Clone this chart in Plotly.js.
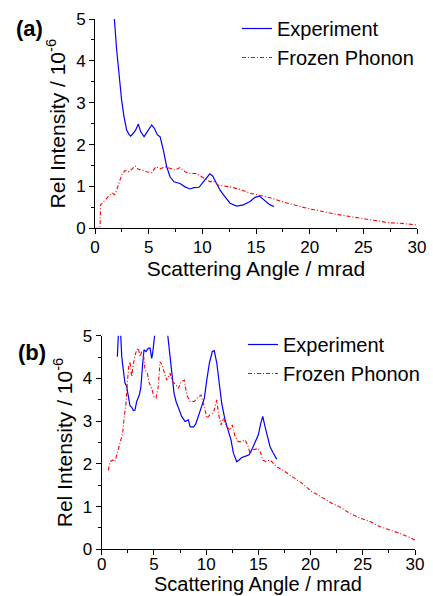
<!DOCTYPE html>
<html>
<head>
<meta charset="utf-8">
<script src="https://cdn.plot.ly/plotly-3.0.1.min.js"></script>
<style>html,body{margin:0;padding:0;background:#fff;overflow:hidden;}#chart{width:433px;height:596px;}</style>
</head>
<body>
<div id="chart"></div>
<script>
// Panel (a)
var expA_x = [1.76,1.80,2.02,2.24,2.48,2.70,2.95,3.15,3.32,3.57,3.79,4.04,4.25,4.57,4.88,5.10,5.28,5.53,5.81,6.06,6.37,6.68,6.99,7.36,7.92,8.39,8.85,9.22,9.69,10.09,10.40,10.70,10.96,11.18,11.65,12.12,12.58,13.2,13.82,14.45,14.91,15.32,15.84,16.31,16.68];
var expA_y = [5.3,5.01,4.26,3.62,3.06,2.67,2.35,2.25,2.20,2.27,2.35,2.49,2.31,2.19,2.31,2.42,2.47,2.39,2.23,2.19,1.87,1.47,1.23,1.11,1.07,0.99,0.94,0.97,0.98,1.11,1.22,1.30,1.25,1.15,0.91,0.75,0.60,0.53,0.56,0.64,0.74,0.77,0.65,0.56,0.52];
var fpA_x = [0,0.47,0.52,0.93,1.40,1.65,1.80,2.02,2.27,2.48,2.80,3.11,3.42,3.73,4.04,4.44,4.81,5.28,5.68,6.06,6.52,6.99,7.45,7.92,8.39,8.85,9.47,9.94,10.40,10.72,11.02,11.49,12.58,13.51,14.45,15.38,16.31,17.24,18.17,19.11,20.04,20.97,21.90,22.83,23.77,24.70,25.63,26.56,27.49,28.42,29.98];
var fpA_y = [0,0,0.56,0.68,0.80,0.84,0.80,0.91,1.09,1.27,1.38,1.35,1.41,1.49,1.41,1.39,1.35,1.33,1.47,1.42,1.47,1.43,1.39,1.45,1.35,1.31,1.31,1.23,1.15,1.11,1.13,1.03,0.99,0.93,0.84,0.78,0.73,0.65,0.58,0.52,0.46,0.41,0.37,0.32,0.28,0.24,0.20,0.16,0.13,0.12,0.08];

// Panel (b)
var expB_x = [1.50,1.59,1.65,1.82,1.92,2.07,2.23,2.39,2.55,2.71,2.87,3.03,3.19,3.35,3.60,3.74,3.93,4.05,4.24,4.47,4.63,4.79,4.88,5.01,5.11,5.25,5.7,6.2,6.32,6.48,6.61,6.76,6.93,7.12,7.34,7.66,7.98,8.30,8.46,8.77,9.00,9.26,9.51,9.83,10.06,10.31,10.59,10.78,11.02,11.24,11.49,11.81,12.13,12.38,12.61,12.93,13.15,13.41,13.79,14.11,14.37,14.68,15.0,15.23,15.42,15.64,15.86,16.12,16.44,16.76];
var expB_y = [4.51,5.02,5.3,5.02,4.51,4.20,3.89,3.81,3.57,3.36,3.33,3.25,3.26,3.46,3.61,3.77,4.36,4.67,4.63,4.71,4.71,4.47,4.59,4.90,5.02,5.4,5.9,5.4,5.02,4.67,4.36,3.96,3.65,3.46,3.30,3.11,2.99,3.03,2.87,2.86,2.93,3.14,3.34,3.54,3.96,4.36,4.63,4.65,4.36,3.89,3.42,3.03,2.79,2.56,2.25,2.05,2.09,2.15,2.18,2.21,2.33,2.52,2.68,2.95,3.11,2.87,2.64,2.40,2.25,2.11];
var fpB_x = [0.63,0.80,1.05,1.27,1.44,1.59,1.75,2.01,2.14,2.33,2.45,2.59,2.71,2.87,3.03,3.16,3.35,3.51,3.67,3.83,3.99,4.15,4.37,4.56,4.79,5.01,5.20,5.42,5.58,5.78,5.97,6.23,6.54,6.80,7.12,7.34,7.60,7.91,8.14,8.46,8.87,9.26,9.51,9.83,10.06,10.37,10.59,10.78,11.02,11.17,11.43,11.65,11.97,12.29,12.51,12.77,13.08,13.41,13.73,13.98,14.20,14.52,15.0,15.23,15.42,15.74,16.12,16.44,16.76,17.24,17.72,18.20,18.68,19.16,19.64,20.11,20.59,21.07,21.55,22.03,22.66,23.78,24.74,25.70,26.66,27.61,28.57,30.0];
var fpB_y = [1.85,2.05,2.09,2.05,2.21,2.33,2.48,2.72,3.07,3.42,3.89,4.28,4.39,4.04,4.32,4.51,4.67,4.71,4.51,4.63,4.59,4.20,4.12,3.89,3.77,3.57,3.54,3.81,4.39,4.32,4.16,3.96,4.12,3.92,3.85,3.77,3.92,3.96,3.61,3.46,3.46,3.57,3.61,3.34,3.07,3.15,3.18,3.26,3.50,3.18,2.91,3.07,2.87,2.79,2.91,2.64,2.52,2.52,2.56,2.44,2.25,2.33,2.36,2.25,2.09,2.05,2.09,2.01,1.93,1.87,1.79,1.72,1.64,1.55,1.45,1.35,1.29,1.21,1.15,1.08,1.01,0.84,0.73,0.65,0.53,0.45,0.37,0.22];

var seriesNames = ["Experiment", "Frozen Phonon"];
var xTitle = "Scattering Angle / mrad";
var yTitle = "Rel Intensity / 10<sup>-6</sup>";
var panelLabels = ["(a)", "(b)"];

var W = 433, H = 596;
var FONT = "Liberation Sans, Arial, sans-serif";
var blueLine = {color: "#0000ff", width: 1.2};
var redLine = {color: "#ff0000", width: 1.1, dash: "4px,2px,1px,2px"};

var traces = [
  {x: expA_x, y: expA_y, name: seriesNames[0], mode: "lines", line: blueLine, xaxis: "x", yaxis: "y", legend: "legend"},
  {x: fpA_x, y: fpA_y, name: seriesNames[1], mode: "lines", line: redLine, xaxis: "x", yaxis: "y", legend: "legend"},
  {x: expB_x, y: expB_y, name: seriesNames[0], mode: "lines", line: blueLine, xaxis: "x2", yaxis: "y2", legend: "legend2"},
  {x: fpB_x, y: fpB_y, name: seriesNames[1], mode: "lines", line: redLine, xaxis: "x2", yaxis: "y2", legend: "legend2"}
];

function xAxis(domain, anchor, withTitle, labelShift) {
  var ax = {
    domain: domain, anchor: anchor, range: [0, 30], tick0: 0, dtick: 5,
    showline: true, linecolor: "#000", linewidth: 1, mirror: false,
    showgrid: false, zeroline: false,
    ticks: "outside", ticklen: 5, tickwidth: 1, tickcolor: "#000",
    ticklabelstandoff: labelShift,
    minor: {dtick: 2.5, ticks: "outside", ticklen: 3, tickwidth: 1, tickcolor: "#000", showgrid: false},
    tickfont: {family: FONT, size: 17, color: "#000"},
    automargin: false
  };
  if (withTitle) ax.title = {text: xTitle, font: {family: FONT, size: 21, color: "#000"}, standoff: 0};
  return ax;
}
function yAxis(domain, anchor) {
  return {
    domain: domain, anchor: anchor, range: [0, 5], tick0: 0, dtick: 1,
    showline: true, linecolor: "#000", linewidth: 1, mirror: false,
    showgrid: false, zeroline: false,
    ticks: "outside", ticklen: 5, tickwidth: 1, tickcolor: "#000",
    minor: {dtick: 0.5, ticks: "outside", ticklen: 3, tickwidth: 1, tickcolor: "#000", showgrid: false},
    tickfont: {family: FONT, size: 17, color: "#000"},
    title: {text: yTitle, font: {family: FONT, size: 21, color: "#000"}, standoff: 4},
    automargin: false
  };
}

var layout = {
  width: W, height: H,
  margin: {l: 0, r: 0, t: 0, b: 0},
  paper_bgcolor: "#fff", plot_bgcolor: "#fff",
  font: {family: FONT, color: "#000"},
  xaxis: xAxis([95/W, 417/W], "y", true, -2),
  yaxis: yAxis([1 - 228.3/H, 1 - 19/H], "x"),
  xaxis2: xAxis([101.7/W, 415/W], "y2", false, -6),
  yaxis2: yAxis([1 - 549.3/H, 1 - 335.7/H], "x2"),
  showlegend: true,
  legend: {x: 237/W, xanchor: "left", y: 1 - 9/H, yanchor: "top", bgcolor: "rgba(0,0,0,0)",
           font: {family: FONT, size: 20, color: "#000"}, tracegroupgap: 0, itemwidth: 30},
  legend2: {x: 243/W, xanchor: "left", y: 1 - 325/H, yanchor: "top", bgcolor: "rgba(0,0,0,0)",
            font: {family: FONT, size: 20, color: "#000"}, tracegroupgap: 0, itemwidth: 30},
  annotations: [
    {text: "<b>" + panelLabels[0] + "</b>", xref: "paper", yref: "paper", x: 30/W, y: 1 - 29/H,
     xanchor: "center", yanchor: "middle", showarrow: false, font: {family: FONT, size: 22, color: "#000"}},
    {text: "<b>" + panelLabels[1] + "</b>", xref: "paper", yref: "paper", x: 32/W, y: 1 - 352/H,
     xanchor: "center", yanchor: "middle", showarrow: false, font: {family: FONT, size: 22, color: "#000"}},
    {text: xTitle, xref: "paper", yref: "paper", x: 258.4/W, y: 0,
     xanchor: "center", yanchor: "bottom", showarrow: false, borderpad: 0,
     font: {family: FONT, size: 20, color: "#000"}}
  ]
};

Plotly.newPlot("chart", traces, layout, {staticPlot: true, displayModeBar: false});
</script>
</body>
</html>
